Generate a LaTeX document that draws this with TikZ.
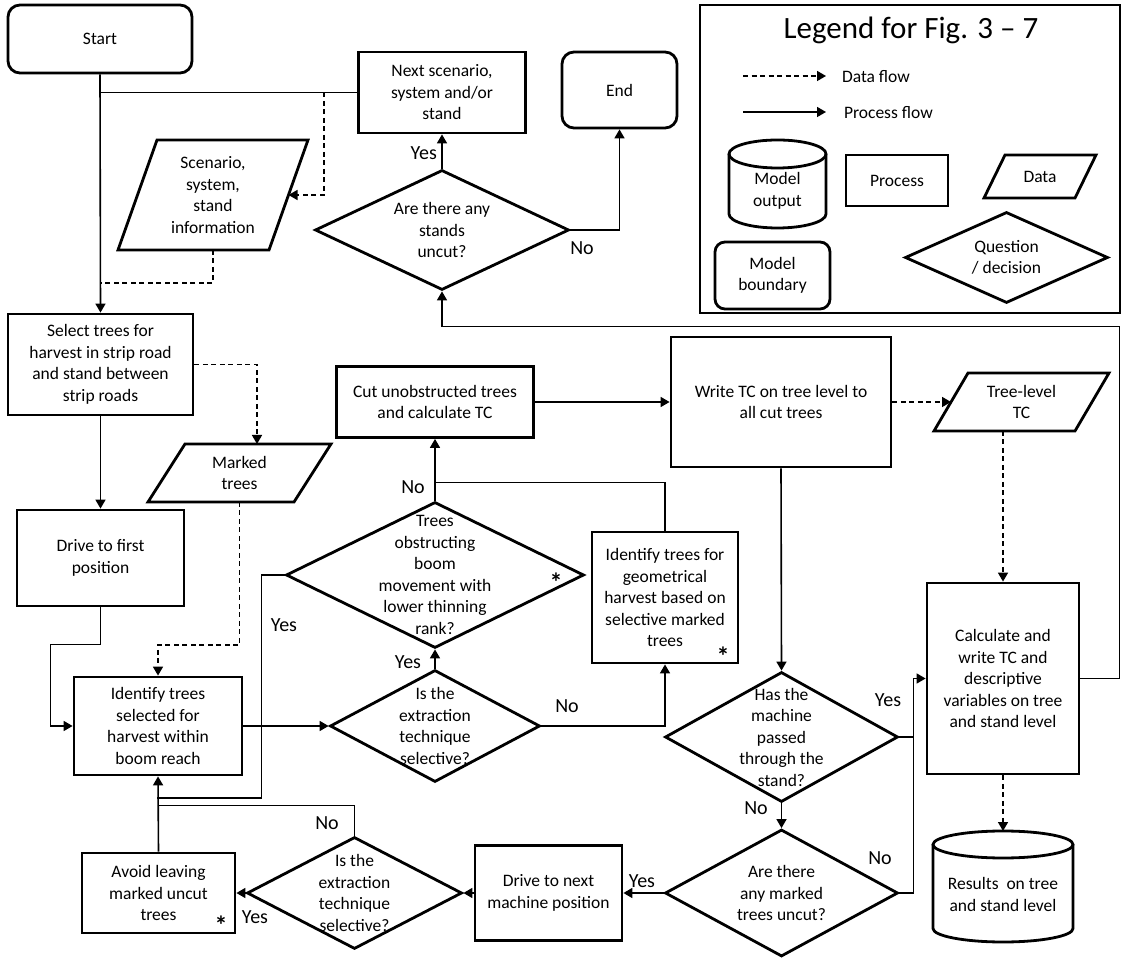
\documentclass[tikz,border=0pt]{standalone}
\usepackage{fontspec}
\setmainfont{Carlito}
\usetikzlibrary{arrows.meta,shapes.geometric,calc}
\newcommand\nodefont{\fontsize{17.5}{21.5}\selectfont}
\newcommand\lblfont{\fontsize{20}{24}\selectfont}
\newcommand\drawpara[2]{\draw[shp,line join=miter] ([xshift=#2]#1.north west) -- (#1.north east) -- ([xshift=-#2]#1.south east) -- (#1.south west) -- cycle;}
\newcommand\drawcyl[3]{\draw[shp] ([yshift=-#3]#1.north west) -- ([yshift=#3]#1.south west) arc[start angle=180,end angle=360,x radius=#2,y radius=#3] -- ([yshift=-#3]#1.north east); \draw[shp] ([yshift=-#3]#1.north) ellipse[x radius=#2,y radius=#3];}
\begin{document}
\begin{tikzpicture}[x=1pt,y=1pt,
  shp/.style={draw, line width=2.8pt},
  box/.style={shp, rectangle, align=center, inner sep=2pt, font=\nodefont},
  rbox/.style={box, rounded corners=12pt},
  dia/.style={shp, diamond, inner sep=0pt},
  dtext/.style={align=center, font=\nodefont, inner sep=0pt},
  ghost/.style={rectangle, inner sep=0pt, outer sep=0pt, align=center, font=\nodefont},
  flow/.style={line width=1.6pt, -{Triangle[length=9pt,width=10pt]}},
  link/.style={line width=1.6pt},
  data/.style={line width=1.6pt, dash pattern=on 5pt off 3.5pt, -{Triangle[length=9pt,width=10pt]}},
  dataline/.style={line width=1.6pt, dash pattern=on 5pt off 3.5pt},
  lbl/.style={font=\lblfont, inner sep=0pt},
  star/.style={font=\fontsize{26}{26}\selectfont\bfseries, inner sep=0pt, yshift=-5pt}]
\useasboundingbox (0,0) rectangle (1123,958);
\fill[white] (0,0) rectangle (1123,958);

% ---------------- main flow nodes ----------------
\node[rbox, minimum width=184pt, minimum height=68pt] (start) at (100,919) {Start};
\node[box, minimum width=167pt, minimum height=81pt] (next) at (442,865.5) {Next scenario,\\system and/or\\stand};
\node[rbox, minimum width=115pt, minimum height=76pt] (end) at (619.5,868) {End};
\node[dia, minimum width=254pt, minimum height=120pt,
  label={[dtext]center:{Are there any\\stands\\uncut?}}] (stands) at (442,728) {};
\node[ghost, minimum width=190pt, minimum height=110pt] (scen) at (213,763) {Scenario,\\system,\\stand\\information};
\drawpara{scen}{39pt}

\node[box, minimum width=185pt, minimum height=101pt] (select) at (100.5,593.5) {Select trees for\\harvest in strip road\\and stand between\\strip roads};
\node[ghost, minimum width=183pt, minimum height=58pt] (marked) at (239.5,485) {Marked\\trees};
\drawpara{marked}{37pt}
\node[box, minimum width=167pt, minimum height=96pt] (drive1) at (100.5,400) {Drive to first\\position};
\node[box, minimum width=168pt, minimum height=98pt] (identify) at (158,232) {Identify trees\\selected for\\harvest within\\boom reach};

\node[dia, minimum width=210pt, minimum height=112pt,
  label={[dtext]center:{Is the\\extraction\\technique\\selective?}}] (ext1) at (435,232) {};
\node[dia, minimum width=298pt, minimum height=146pt,
  label={[dtext]center:{Trees\\obstructing\\boom\\movement with\\lower thinning\\rank?}}] (obstr) at (435,383) {};
\node[box, minimum width=197pt, minimum height=71pt] (cut) at (435,556) {Cut unobstructed trees\\and calculate TC};
\node[box, minimum width=220pt, minimum height=130pt] (write) at (781,556) {Write TC on tree level to\\all cut trees};
\node[ghost, minimum width=175pt, minimum height=58pt] (tl) at (1021.5,556) {Tree-level\\TC};
\drawpara{tl}{34pt}
\node[box, minimum width=146pt, minimum height=131pt] (geom) at (665,360.5) {Identify trees for\\geometrical\\harvest based on\\selective marked\\trees};
\node[box, minimum width=152pt, minimum height=191pt] (calc) at (1003,279.5) {Calculate and\\write TC and\\descriptive\\variables on tree\\and stand level};
\node[ghost, minimum width=140pt, minimum height=111pt,
  label={[ghost, yshift=-8pt]center:{Results~ on tree\\and stand level}}] (res) at (1003,71.5) {};
\drawcyl{res}{70pt}{13.5pt}

\node[dia, minimum width=233pt, minimum height=130pt,
  label={[dtext]center:{Has the\\machine\\passed\\through the\\stand?}}] (passed) at (781.5,221) {};
\node[dia, minimum width=233pt, minimum height=127pt,
  label={[dtext]center:{Are there\\any marked\\trees uncut?}}] (uncut) at (781.5,65) {};
\node[box, minimum width=147pt, minimum height=95pt] (drive2) at (548.5,65) {Drive to next\\machine position};
\node[dia, minimum width=215pt, minimum height=112pt,
  label={[dtext]center:{Is the\\extraction\\technique\\selective?}}] (ext2) at (354.5,65) {};
\node[box, minimum width=153pt, minimum height=80pt] (avoid) at (158.5,65) {Avoid leaving\\marked uncut\\trees};

% asterisks
\node[star] (s1) at (556,381) {*};
\node[star] (s2) at (723,307) {*};
\node[star] (s3) at (221,38) {*};

% ---------------- connectors ----------------
\draw[flow] (start.south) -- (select.north);
\draw[link] (next.west) -- (next.west -| start.south);
\draw[data] ([xshift=-33pt]next.west) |- ([xshift=-19.5pt]scen.east);
\draw[dataline] (scen.south) -- ++(0,-33) -- ++(-113,0);
\draw[flow] (stands.north) -- (next.south);
\draw[flow] (stands.east) -| (end.south);
\draw[flow] (select.south) -- (drive1.north);
\draw[data] (select.east) -| ([xshift=17.5pt]marked.north);
\draw[flow] (drive1.south) -- ++(0,-37) -| ([xshift=-22pt]identify.west) -- (identify.west);
\draw[data] (marked.south) -- ++(0,-143) -| (identify.north);
\draw[flow] (identify.east) -- (ext1.west);
\draw[flow] (ext1.north) -- (obstr.south);
\draw[flow] (obstr.north) -- (cut.south);
\draw[link] (geom.north) -- ++(0,48) -- ++(-230,0);
\draw[link] (obstr.west) -- ++(-23,0) -- ++(0,-223) -- ++(-105,0);
\draw[flow] (ext1.east) -| (geom.south);
\draw[flow] (cut.east) -- (write.west);
\draw[data] (write.east) -- ([xshift=17pt]tl.west);
\draw[data] (calc.north |- tl.south) -- (calc.north);
\draw[flow] (write.south) -- (passed.north);
\draw[flow] (passed.south) -- (uncut.north);
\draw[flow] (passed.east) -- ++(14,0) |- (calc.west);
\draw[link] (uncut.east) -- ++(14,0) |- (passed.east);
\draw[flow] (uncut.west) -- (drive2.east);
\draw[flow] (drive2.west) -- (ext2.east);
\draw[flow] (ext2.west) -- (avoid.east);
\draw[link] (ext2.north) -- ++(0,30) -- ++(-196.5,0);
\draw[flow] (avoid.north) -- (identify.south);
\draw[data] (calc.south) -- (res.north);
\draw[flow] (calc.east) -- ++(39,0) |- ([yshift=-35pt]stands.south) -- (stands.south);

% ---------------- Yes / No labels ----------------
\node[lbl, anchor=east] (l1) at (437,805) {Yes};
\node[lbl] (l2) at (582,710) {No};
\node[lbl] (l3) at (408,296) {Yes};
\node[lbl] (l4) at (413,471) {No};
\node[lbl] (l5) at (284,333) {Yes};
\node[lbl] (l6) at (567,252) {No};
\node[lbl] (l7) at (888,258) {Yes};
\node[lbl] (l8) at (756,150) {No};
\node[lbl] (l9) at (880,100) {No};
\node[lbl] (l10) at (642,77) {Yes};
\node[lbl] (l11) at (255,41) {Yes};
\node[lbl] (l12) at (327,135) {No};

% ---------------- legend ----------------
\draw[line width=2.2pt] (700,645) rectangle (1120,953);
\node[inner sep=0pt, font=\fontsize{31}{36}\selectfont] (ltitle) at (911,928) {Legend for Fig. 3 -- 7};
\coordinate (ldA) at (743,882);
\coordinate (ldB) at (826,882);
\draw[data] (ldA) -- (ldB);
\node[ghost, anchor=west] (ldT) at (842,881) {Data flow};
\coordinate (lpA) at (743,846);
\coordinate (lpB) at (826,846);
\draw[flow] (lpA) -- (lpB);
\node[ghost, anchor=west] (lpT) at (844,845) {Process flow};
\node[ghost, minimum width=97pt, minimum height=88pt,
  label={[ghost, yshift=-7pt]center:{Model\\output}}] (lcyl) at (777.5,774) {};
\drawcyl{lcyl}{48.5pt}{14pt}
\node[box, minimum width=102pt, minimum height=51pt] (lproc) at (897,777.5) {Process};
\node[ghost, minimum width=112pt, minimum height=43pt] (ldata) at (1040,781.5) {Data};
\drawpara{ldata}{21pt}
\node[rbox, rounded corners=10pt, minimum width=115pt, minimum height=67pt] (lbound) at (772.5,682.5) {Model\\boundary};
\node[dia, minimum width=203pt, minimum height=91pt,
  label={[dtext]center:{Question\\/ decision}}] (lq) at (1006.5,700.5) {};
\end{tikzpicture}
\end{document}
